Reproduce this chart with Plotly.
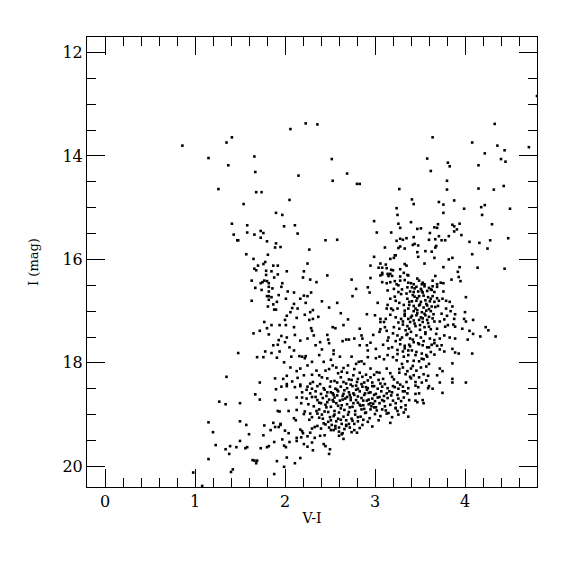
import plotly.graph_objects as go

# Colour index V-I and I magnitude
v_minus_i = [
    1.41, 1.35, 0.86, 1.15, 1.66, 1.37, 1.67,
    2.23, 2.36, 2.06, 2.52, 2.15, 2.69, 2.53, 2.80, 2.83,
    4.80, 4.33, 3.64, 4.08, 4.36, 4.71, 4.44, 4.22, 3.58, 4.40, 4.45, 3.81, 3.83, 4.15, 3.62, 3.80,
    1.26, 1.68, 1.74, 1.54, 1.90, 1.41, 1.58, 1.73, 1.76, 1.58, 1.43, 1.66, 1.73, 1.47, 1.48, 1.80,
    1.90, 1.89, 1.95, 1.57, 1.81, 1.65, 1.78, 1.70, 1.76, 1.87, 1.92, 1.66, 1.68, 1.79, 1.85, 1.79,
    1.92, 1.88, 1.63, 1.77, 1.80, 1.73, 1.75, 1.82,
    3.27, 2.05, 3.24, 1.97, 3.25, 2.99, 1.99, 2.11, 3.26, 3.28, 2.14, 3.02, 3.18, 3.28, 3.31, 3.35,
    2.45, 2.58, 3.24, 3.11, 3.26, 3.28, 3.33, 2.27, 3.22, 3.23, 2.99, 3.17, 3.21, 3.06, 2.25, 2.95,
    3.12, 3.33, 3.35, 3.04, 3.08, 3.13, 3.18, 3.20, 3.28, 2.02, 2.21, 3.08, 3.14, 3.17, 3.32, 3.36,
    3.37, 3.06, 3.08, 3.15, 3.19, 3.28, 2.20, 2.28, 2.35, 2.47, 2.74, 2.95, 3.08, 3.13, 3.17, 3.22,
    3.24, 3.28, 3.33, 3.37, 1.97,
    3.80, 4.15, 4.32, 4.43, 3.41, 3.43, 3.71, 3.88, 3.76, 3.99, 4.18, 4.22, 4.50, 3.76, 4.19, 3.40,
    3.47, 3.51, 3.66, 3.69, 3.70, 3.86, 3.88, 3.94, 4.30, 3.91, 3.88, 3.61, 3.96, 3.43, 3.71, 3.82,
    3.60, 3.67, 3.74, 3.78, 4.05, 4.16, 4.28, 4.48, 3.42, 3.44, 3.48, 3.68, 3.67, 4.25, 3.47, 3.56,
    3.63, 3.48, 4.08, 3.66, 3.82, 3.86, 3.55, 3.76, 3.94, 4.14, 4.44, 3.92, 3.67, 3.93, 3.47, 3.49,
    3.64, 3.85, 3.95, 3.40, 3.43, 3.52, 3.53, 3.69, 3.73, 3.76,
    1.67, 1.74, 1.82, 1.86, 1.82, 1.80, 1.82, 1.85, 1.93, 1.63, 1.82, 1.91, 1.87, 1.81, 1.88, 1.90,
    1.77, 1.85, 1.94, 1.80, 1.72, 1.65, 1.82, 1.93, 1.87, 1.92, 1.78, 1.85, 1.94, 1.48, 1.69, 1.76,
    1.91, 1.35, 1.89, 1.72,
    1.96, 2.03, 2.01, 2.10, 2.21, 2.25, 2.29, 2.17, 2.23, 2.10, 2.08, 2.14, 2.41, 2.58, 2.49, 2.75,
    2.79, 2.92, 2.94, 3.03, 3.14, 3.21, 3.26, 3.29, 3.36, 3.39, 3.17, 3.23, 3.27, 3.32, 3.36, 3.38,
    3.14, 3.13, 3.20, 3.25, 3.33, 3.37,
    2.06, 2.02, 2.00, 2.13, 2.22, 2.28, 2.31, 2.31, 2.37, 2.27, 2.62, 2.70, 2.65, 2.53, 2.56, 2.91,
    2.83, 3.00, 3.06, 3.06, 3.11, 3.10, 3.17, 3.23, 3.29, 3.33, 3.37, 3.26, 3.31, 3.36, 3.39, 3.21,
    3.27, 3.34, 2.01, 2.10, 2.29, 2.30,
    1.96, 2.02, 2.11, 2.17, 2.00, 2.05, 2.10, 2.25, 2.32, 2.39, 2.34, 2.41, 2.47, 2.48, 2.49, 2.54,
    2.64, 2.68, 2.71, 2.77, 2.85, 2.86, 2.83, 2.91, 2.95, 2.98, 3.05, 3.06, 3.13, 3.15, 3.14, 3.09,
    3.01, 2.92, 3.20, 3.25, 3.30, 3.36, 3.39, 3.23, 3.28, 3.33, 3.38, 3.19, 3.25, 3.31, 3.37,
    1.99, 2.07, 2.16, 2.19, 2.22, 2.23, 2.25, 2.30, 2.38, 2.43, 2.51, 2.54, 2.61, 2.74, 2.79, 2.82,
    2.85, 2.88, 2.92, 3.01, 3.05, 3.10, 3.14, 3.20, 3.25, 3.32, 3.37, 2.06, 2.13, 2.17, 2.02, 1.98,
    2.08, 2.14, 2.21, 2.30, 2.35, 2.41, 2.49, 2.53, 2.57, 2.59, 2.65, 2.69, 2.71, 2.76, 2.80, 2.83,
    2.90, 2.95, 2.99, 3.05, 3.09, 3.13, 3.17, 3.21, 3.27, 3.31, 3.36, 3.39, 2.51, 2.58, 2.65, 2.88,
    2.97, 3.06, 3.25, 3.35, 2.02, 2.17, 2.28, 2.39, 2.73, 2.81, 2.85, 2.92,
    3.41, 3.46, 3.51, 3.55, 3.60, 3.64, 3.69, 3.43, 3.48, 3.53, 3.58, 3.63, 3.66, 3.44, 3.49, 3.54,
    3.59, 3.64, 3.69, 3.41, 3.46, 3.51, 3.56, 3.61, 3.66, 3.71, 3.43, 3.49, 3.54, 3.58, 3.63, 3.43,
    3.47, 3.52, 3.57, 3.62, 3.41, 3.46, 3.51, 3.56, 3.60, 3.43, 3.49, 3.53, 3.58, 3.66, 3.72, 3.45,
    3.50, 3.55, 3.60, 3.69, 3.75, 3.79, 3.83, 3.86, 3.79, 3.84, 3.89, 3.80, 3.77, 3.88, 3.81, 3.87,
    3.89, 4.01, 4.00, 3.99, 4.01, 4.09, 3.97, 4.05, 4.09, 4.23, 4.26, 4.34, 4.17, 3.40, 3.46, 3.51,
    3.56, 3.61, 3.66, 3.72, 3.77, 3.83, 3.89, 4.03, 3.43, 3.49, 3.53, 3.58, 3.63, 3.69, 3.74, 3.72,
    3.77, 3.86, 3.89, 3.93, 4.08, 3.41, 3.46, 3.52, 3.57, 3.62, 3.66, 3.43, 3.49, 3.54, 3.60, 3.86,
    3.40, 3.46, 3.51, 3.57, 3.72, 3.75, 3.43, 3.49, 3.54, 3.59, 3.69, 3.45, 3.52, 3.57, 3.72, 3.86,
    3.86, 4.01,
    1.96, 2.02, 2.11, 2.17, 2.25, 2.30, 2.36, 2.43, 2.50, 2.56, 2.62, 2.69, 2.75, 2.81, 2.86, 2.92,
    2.97, 3.03, 3.08, 3.14, 3.20, 3.26, 3.31, 3.37,
    2.19, 2.28, 2.34, 2.40, 2.47, 2.53, 2.59, 2.65, 2.71, 2.77, 2.83, 2.89, 2.95, 3.01, 3.07, 3.13,
    3.19, 3.25, 3.31, 3.36, 2.01, 2.13,
    2.19, 2.24, 2.30, 2.36, 2.42, 2.49, 2.55, 2.61, 2.67, 2.73, 2.79, 2.85, 2.91, 2.97, 3.03, 3.08,
    3.14, 3.20, 3.26, 3.32, 3.38, 2.04, 2.13, 2.26, 2.32, 2.38, 2.45, 2.51, 2.57, 2.63, 2.69, 2.75,
    2.81, 2.87, 2.93, 2.99, 3.05, 3.11, 3.17, 3.23, 3.29, 3.34, 2.47, 2.54, 2.83, 2.88, 2.95,
    2.10, 2.12, 2.22, 2.28, 2.30, 2.35, 2.41, 2.48, 2.50, 2.54, 2.60, 2.65, 2.71, 2.74, 2.78, 2.84,
    2.90, 2.94, 3.00, 3.06, 3.13, 3.19, 3.26, 3.32, 3.37, 2.51, 2.57, 2.68, 2.81, 2.92, 3.04, 3.17,
    3.25, 3.23, 3.34,
    1.95, 2.00, 2.04, 2.17, 2.19, 2.20, 2.28, 2.30, 2.36, 2.40, 2.43, 2.49, 2.51, 2.54, 2.56, 2.60,
    2.64, 2.68, 2.71, 2.74, 2.77, 2.80, 2.83, 2.97, 2.60, 2.65, 2.39, 2.44, 2.63,
    1.97, 1.99, 2.01, 2.05, 2.13, 2.13, 2.18, 2.21, 2.25, 2.25, 2.30, 2.31, 2.33, 2.43, 2.45, 2.50,
    2.49, 2.02, 2.17, 2.11, 1.99,
    2.58, 2.64, 2.72, 2.76, 2.85, 2.62, 2.55, 2.70, 2.88, 2.93, 2.99, 3.02, 2.79, 2.66, 2.46, 2.38,
    3.10, 2.44, 2.59, 2.77, 2.86, 2.63, 2.52, 2.38, 2.96, 3.12, 2.90, 2.54, 2.73, 3.00,
    1.90, 1.67, 1.72, 1.89, 1.27, 1.34, 1.50, 1.92, 1.94, 1.15, 1.50, 1.57, 1.77, 1.87, 1.93, 1.89,
    1.95, 1.20, 1.60, 1.76, 1.84, 1.50, 1.88, 1.23, 1.34, 1.39, 1.46, 1.56, 1.58, 1.73, 1.80, 1.82,
    1.38, 1.15, 1.64, 1.66, 1.69, 1.68, 1.91, 1.42, 1.40, 0.98, 1.88, 1.08,
    3.45, 3.48, 3.59, 3.60, 3.64, 3.75, 3.45, 3.49, 3.45, 3.47, 3.53, 3.54,
]

i_mag = [
    13.64, 13.74, 13.80, 14.04, 14.01, 14.18, 14.31,
    13.37, 13.39, 13.48, 14.06, 14.38, 14.34, 14.48, 14.54, 14.54,
    12.84, 13.38, 13.64, 13.74, 13.80, 13.83, 13.89, 13.95, 14.05, 14.06, 14.11, 14.13, 14.20, 14.18, 14.29, 14.48,
    14.64, 14.70, 14.70, 14.93, 15.10, 15.31, 15.34, 15.45, 15.49, 15.48, 15.52, 15.52, 15.58, 15.63, 15.63, 15.65,
    15.69, 15.77, 15.76, 15.90, 15.91, 15.99, 16.05, 16.12, 16.09, 16.12, 16.12, 16.18, 16.21, 16.22, 16.23, 16.30,
    16.29, 16.35, 16.41, 16.41, 16.42, 16.46, 16.44, 16.46,
    14.64, 14.85, 15.01, 15.14, 15.14, 15.26, 15.36, 15.34, 15.31, 15.39, 15.50, 15.48, 15.48, 15.60, 15.62, 15.59,
    15.63, 15.62, 15.64, 15.77, 15.78, 15.75, 15.79, 15.81, 15.92, 15.92, 15.95, 15.99, 15.97, 16.08, 16.08, 16.12,
    16.10, 16.09, 16.12, 16.16, 16.16, 16.17, 16.20, 16.21, 16.19, 16.23, 16.23, 16.26, 16.28, 16.28, 16.26, 16.30,
    16.31, 16.31, 16.29, 16.32, 16.32, 16.33, 16.35, 16.39, 16.44, 16.31, 16.39, 16.36, 16.44, 16.46, 16.44, 16.42,
    16.48, 16.41, 16.40, 16.45, 16.46,
    14.65, 14.63, 14.65, 14.58, 14.84, 14.93, 14.89, 14.86, 14.94, 15.02, 14.99, 14.95, 15.02, 15.10, 15.14, 15.28,
    15.41, 15.40, 15.38, 15.39, 15.32, 15.33, 15.36, 15.31, 15.32, 15.42, 15.46, 15.49, 15.53, 15.57, 15.55, 15.55,
    15.62, 15.61, 15.63, 15.63, 15.66, 15.68, 15.63, 15.59, 15.72, 15.70, 15.73, 15.74, 15.77, 15.79, 15.86, 15.84,
    15.85, 15.95, 15.90, 15.97, 16.00, 15.97, 16.08, 16.15, 16.15, 16.16, 16.18, 16.24, 16.32, 16.34, 16.37, 16.41,
    16.41, 16.39, 16.42, 16.46, 16.48, 16.48, 16.45, 16.48, 16.45, 16.46,
    16.55, 16.59, 16.53, 16.56, 16.62, 16.71, 16.71, 16.73, 16.69, 16.80, 16.78, 16.82, 16.87, 16.91, 16.97, 16.97,
    17.21, 17.27, 17.27, 17.33, 17.38, 17.43, 17.45, 17.56, 17.66, 17.65, 17.78, 17.81, 17.78, 17.81, 17.89, 17.89,
    17.90, 18.27, 18.30, 18.38,
    16.53, 16.62, 16.76, 16.64, 16.70, 16.71, 16.64, 16.76, 16.84, 16.86, 16.94, 16.95, 16.81, 16.84, 16.93, 16.71,
    16.57, 16.54, 16.64, 16.84, 16.60, 16.57, 16.63, 16.67, 16.54, 16.62, 16.76, 16.80, 16.84, 16.88, 16.76, 16.82,
    16.88, 16.95, 16.98, 16.95, 16.99, 16.95,
    17.02, 17.09, 17.17, 17.13, 17.07, 17.02, 16.98, 17.15, 17.11, 17.17, 17.04, 17.16, 17.27, 17.31, 17.33, 17.06,
    17.34, 17.08, 17.15, 17.21, 17.31, 17.21, 17.07, 17.12, 17.15, 17.09, 17.15, 17.22, 17.26, 17.29, 17.21, 17.31,
    17.34, 17.37, 17.27, 17.31, 17.33, 17.38,
    17.48, 17.51, 17.46, 17.57, 17.60, 17.70, 17.76, 17.53, 17.47, 17.60, 17.66, 17.74, 17.46, 17.55, 17.62, 17.76,
    17.58, 17.55, 17.55, 17.53, 17.47, 17.53, 17.66, 17.66, 17.61, 17.46, 17.40, 17.35, 17.38, 17.51, 17.57, 17.65,
    17.73, 17.76, 17.43, 17.47, 17.51, 17.44, 17.53, 17.58, 17.64, 17.67, 17.65, 17.70, 17.75, 17.78, 17.76,
    17.99, 17.88, 17.87, 17.88, 17.91, 17.87, 18.05, 17.98, 17.85, 17.98, 17.94, 17.83, 17.88, 17.88, 18.02, 17.98,
    17.97, 18.02, 17.89, 17.91, 17.88, 17.93, 17.85, 17.89, 17.83, 17.88, 17.85, 18.09, 18.16, 18.11, 18.25, 18.31,
    18.36, 18.29, 18.24, 18.23, 18.15, 18.28, 18.12, 18.05, 18.09, 18.20, 18.10, 18.19, 18.32, 18.24, 18.37, 18.19,
    18.23, 18.11, 18.23, 18.19, 18.31, 18.11, 18.20, 18.32, 18.19, 18.09, 18.16, 18.27, 18.36, 18.38, 18.37, 18.38,
    18.38, 18.40, 18.38, 18.37, 18.41, 18.42, 18.40, 18.41, 18.42, 18.31, 18.41, 18.34,
    16.54, 16.53, 16.57, 16.52, 16.55, 16.52, 16.53, 16.63, 16.62, 16.64, 16.61, 16.59, 16.63, 16.72, 16.71, 16.70,
    16.73, 16.71, 16.75, 16.81, 16.80, 16.82, 16.79, 16.81, 16.82, 16.80, 16.90, 16.89, 16.93, 16.89, 16.91, 17.00,
    16.98, 17.02, 16.99, 17.00, 17.09, 17.08, 17.12, 17.08, 17.11, 17.18, 17.17, 17.21, 17.17, 17.20, 17.20, 17.29,
    17.27, 17.31, 17.30, 17.34, 16.76, 16.80, 16.82, 16.91, 16.95, 17.00, 17.06, 17.09, 17.16, 17.15, 17.27, 17.26,
    17.30, 16.73, 17.02, 17.15, 17.20, 17.17, 17.34, 17.38, 17.44, 17.31, 17.37, 17.49, 17.49, 17.40, 17.47, 17.51,
    17.44, 17.53, 17.56, 17.53, 17.47, 17.51, 17.53, 17.55, 17.60, 17.64, 17.66, 17.70, 17.65, 17.67, 17.66, 17.74,
    17.78, 17.73, 17.80, 17.82, 17.82, 17.76, 17.79, 17.82, 17.85, 17.79, 17.84, 17.96, 17.97, 17.93, 18.02, 18.01,
    18.11, 18.15, 18.09, 18.07, 18.11, 18.16, 18.24, 18.28, 18.22, 18.25, 18.24, 18.37, 18.38, 18.34, 18.38, 18.31,
    18.38, 18.38,
    18.46, 18.45, 18.47, 18.45, 18.46, 18.50, 18.45, 18.49, 18.46, 18.50, 18.46, 18.49, 18.45, 18.50, 18.46, 18.49,
    18.45, 18.50, 18.46, 18.49, 18.45, 18.50, 18.46, 18.49,
    18.57, 18.59, 18.55, 18.60, 18.57, 18.59, 18.55, 18.60, 18.57, 18.62, 18.55, 18.59, 18.57, 18.60, 18.55, 18.59,
    18.57, 18.62, 18.55, 18.59, 18.71, 18.67,
    18.67, 18.69, 18.66, 18.72, 18.68, 18.71, 18.67, 18.73, 18.69, 18.67, 18.72, 18.68, 18.73, 18.69, 18.67, 18.72,
    18.68, 18.73, 18.69, 18.67, 18.72, 18.93, 18.91, 18.80, 18.84, 18.77, 18.81, 18.85, 18.78, 18.82, 18.80, 18.85,
    18.77, 18.82, 18.80, 18.86, 18.78, 18.84, 18.81, 18.78, 18.86, 18.82, 18.76, 18.75, 18.81, 18.89, 18.90,
    19.07, 19.11, 18.94, 18.98, 19.05, 18.93, 19.00, 18.95, 19.05, 19.03, 18.96, 19.04, 18.95, 19.08, 19.00, 19.04,
    18.96, 19.07, 18.99, 19.03, 18.98, 19.05, 19.00, 18.96, 19.04, 19.11, 19.13, 19.11, 19.13, 19.14, 19.11, 19.16,
    18.93, 18.87, 18.90,
    19.18, 19.31, 19.36, 19.29, 19.32, 19.36, 19.35, 19.27, 19.22, 19.27, 19.17, 19.25, 19.30, 19.30, 19.27, 19.25,
    19.36, 19.22, 19.18, 19.34, 19.30, 19.35, 19.26, 19.23, 19.41, 19.47, 19.41, 19.40, 19.38,
    19.48, 19.60, 19.63, 19.53, 19.45, 19.51, 19.44, 19.57, 19.42, 19.62, 19.54, 19.69, 19.45, 19.57, 19.61, 19.67,
    19.76, 19.83, 19.84, 19.94, 20.01,
    18.52, 18.64, 18.62, 18.78, 18.90, 18.88, 18.93, 19.00, 18.62, 18.71, 18.62, 18.92, 18.52, 18.53, 18.64, 18.90,
    18.64, 18.94, 19.08, 19.18, 19.20, 19.18, 19.20, 19.06, 18.84, 18.92, 18.47, 18.62, 18.72, 18.74,
    18.51, 18.61, 18.71, 18.72, 18.75, 18.80, 18.78, 18.93, 18.94, 19.15, 19.13, 19.20, 19.21, 19.16, 19.24, 19.24,
    19.20, 19.34, 19.38, 19.40, 19.30, 19.51, 19.53, 19.59, 19.67, 19.61, 19.63, 19.65, 19.63, 19.65, 19.63, 19.61,
    19.76, 19.86, 19.88, 19.89, 19.89, 19.94, 19.90, 20.06, 20.11, 20.12, 20.15, 20.38,
    18.44, 18.47, 18.49, 18.45, 18.50, 18.58, 18.60, 18.59, 18.73, 18.76, 18.72, 18.78,
]

# Additional stars read from the two densest parts of the diagram
v_minus_i_dense = [
    2.47, 2.55, 2.62, 2.68, 2.74, 2.79, 2.86, 2.91, 2.99, 3.04, 3.11, 3.16, 3.22, 2.44, 2.51, 2.58,
    2.64, 2.69, 2.76, 2.81, 2.87, 2.93, 2.98, 3.05, 3.10, 3.18, 2.34, 2.40, 2.46, 2.53, 2.59, 2.66,
    2.72, 2.78, 2.84, 2.89, 2.95, 3.01, 3.08, 2.36, 2.42, 2.48, 2.55, 2.62, 2.68, 2.75, 2.81, 2.87,
    2.56, 2.60, 2.66, 2.72, 2.45, 2.33, 2.27, 2.21, 2.18, 2.24, 2.31, 2.38, 2.45, 2.63, 2.70, 2.77,
    2.95, 3.02, 3.19, 3.28, 3.33, 3.23, 3.29, 3.15,
    3.30, 3.35, 3.42, 3.47, 3.52, 3.57, 3.62, 3.67, 3.38, 3.45, 3.50, 3.55, 3.60, 3.65, 3.70, 3.33,
    3.40, 3.47, 3.53, 3.59, 3.64, 3.31, 3.38, 3.44, 3.50, 3.56, 3.62, 3.68, 3.35, 3.42, 3.48, 3.54,
    3.60, 3.66, 3.28, 3.33, 3.39, 3.45, 3.52, 3.58, 3.24, 3.30, 3.36, 3.42, 3.27, 3.34, 3.40, 3.15,
    3.12, 3.18, 3.22, 3.26, 3.74, 3.78, 3.76, 3.44, 3.55, 3.62,
]

i_mag_dense = [
    18.30, 18.35, 18.28, 18.40, 18.33, 18.44, 18.27, 18.52, 18.45, 18.33, 18.41, 18.55, 18.47, 18.52, 18.57, 18.63,
    18.71, 18.66, 18.59, 18.65, 18.73, 18.58, 18.79, 18.66, 18.74, 18.63, 18.66, 18.78, 18.86, 18.72, 18.83, 18.91,
    18.86, 18.93, 18.83, 18.97, 18.78, 18.86, 18.90, 18.98, 19.08, 19.14, 19.00, 19.10, 19.20, 19.12, 19.05, 19.10,
    19.22, 19.33, 19.28, 19.25, 19.19, 19.24, 19.10, 18.99, 18.78, 18.52, 18.37, 18.24, 18.15, 18.17, 18.05, 18.12,
    18.28, 18.18, 18.27, 18.42, 18.55, 18.88, 18.74, 18.97,
    16.58, 16.66, 16.69, 16.75, 16.61, 16.86, 16.76, 16.92, 16.88, 16.95, 16.87, 17.05, 16.96, 17.06, 16.90, 17.05,
    17.12, 17.04, 17.14, 17.23, 17.14, 17.20, 17.34, 17.24, 17.36, 17.41, 17.35, 17.44, 17.46, 17.55, 17.62, 17.58,
    17.70, 17.62, 17.55, 17.72, 17.68, 17.85, 17.92, 17.88, 17.95, 18.02, 17.97, 18.06, 18.12, 18.22, 18.30, 17.72,
    17.15, 16.95, 16.72, 16.50, 17.05, 17.30, 16.62, 16.56, 16.48, 16.58,
]

x_ticks = [0, 1, 2, 3, 4]
y_ticks = [12, 14, 16, 18, 20]

xs = v_minus_i + v_minus_i_dense
ys = i_mag + i_mag_dense
n = min(len(xs), len(ys))

fig = go.Figure(
    go.Scatter(
        x=xs[:n],
        y=ys[:n],
        mode="markers",
        marker=dict(symbol="square", size=2.6, color="black", line=dict(width=0)),
        hoverinfo="skip",
    )
)

serif = "DejaVu Serif"
axis_font = dict(family=serif, size=16, color="black")

fig.update_layout(
    width=575,
    height=575,
    margin=dict(l=79, r=46, t=29, b=96),
    paper_bgcolor="white",
    plot_bgcolor="white",
    showlegend=False,
    font=dict(family=serif, color="black"),
)

fig.update_xaxes(
    range=[-0.2, 4.8],
    tickvals=x_ticks,
    ticktext=[str(v) for v in x_ticks],
    ticks="inside",
    ticklen=18,
    tickwidth=1,
    tickcolor="black",
    minor=dict(dtick=0.2, ticks="inside", ticklen=9, tickwidth=1, tickcolor="black", showgrid=False),
    showline=True,
    linecolor="black",
    linewidth=1,
    mirror="allticks",
    showgrid=False,
    zeroline=False,
    tickfont=axis_font,
    title=dict(text="V-I", font=dict(family=serif, size=14, color="black"), standoff=2),
)

fig.update_yaxes(
    range=[20.40, 11.70],
    tickvals=y_ticks,
    ticktext=[str(v) for v in y_ticks],
    ticks="inside",
    ticklen=18,
    tickwidth=1,
    tickcolor="black",
    minor=dict(dtick=0.5, tick0=12, ticks="inside", ticklen=9, tickwidth=1, tickcolor="black", showgrid=False),
    showline=True,
    linecolor="black",
    linewidth=1,
    mirror="allticks",
    showgrid=False,
    zeroline=False,
    tickfont=axis_font,
    title=dict(text="I (mag)", font=dict(family=serif, size=13, color="black"), standoff=20),
)

fig.write_html("out.html")
